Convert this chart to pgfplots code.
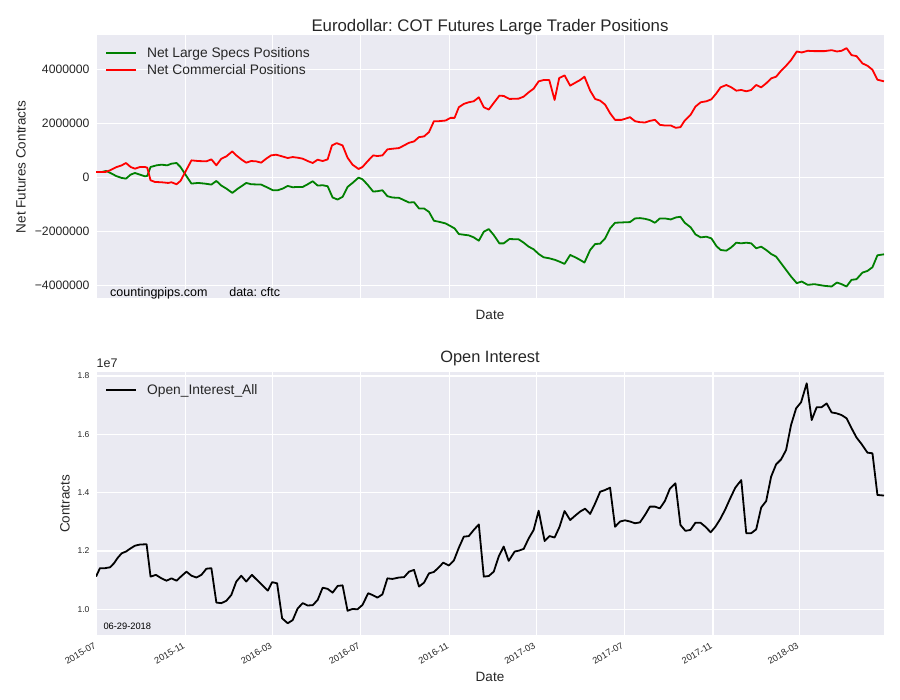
\documentclass[border=0pt]{standalone}
\usepackage{fontspec}
\setmainfont{Liberation Sans}
\usepackage{pgfplots}
\pgfplotsset{compat=1.18}
\frenchspacing

\definecolor{sbbg}{HTML}{EAEAF2}
\definecolor{sbtext}{HTML}{262626}
\definecolor{mplgreen}{RGB}{0,128,0}

% seaborn darkgrid look, x in days since 2015-07-01
\pgfplotsset{
  sbstyle/.style={
    scale only axis, width=788pt,
    xmin=-1, xmax=1091,
    scaled y ticks=false, scaled x ticks=false,
    axis background/.style={fill=sbbg},
    axis line style={draw=none},
    grid=major, major grid style={white, line width=1.1pt},
    major tick length=0pt,
    xtick={0,123,244,366,489,609,731,854,974},
    legend cell align=left,
    legend style={draw=none, fill=none, anchor=north west,
      at={(axis description cs:0,1)}, xshift=6pt, yshift=-8pt,
      font=\fontsize{13.8}{16}\selectfont, text=sbtext,
      row sep=1.5pt,
      /tikz/every odd column/.append style={column sep=5pt}},
    legend image code/.code={\draw[##1, line width=1.9pt] (0pt,0pt) -- (30pt,0pt);},
    every axis plot/.append style={line width=1.8pt, line join=round},
    tick label style={text=sbtext},
  }
}

\begin{document}
\begin{tikzpicture}
\path[use as bounding box] (0pt,0pt) rectangle (900pt,700pt);

% ---------- top: net positions ----------
\begin{axis}[sbstyle,
  at={(96pt,401.5pt)}, anchor=south west, height=263.5pt,
  ymin=-4480000, ymax=5260000,
  ytick={-4000000,-2000000,0,2000000,4000000},
  yticklabels={−4000000,−2000000,0,2000000,4000000},
  yticklabel style={font=\fontsize{12.2}{14}\selectfont, xshift=-3pt},
  xticklabels={},
]
\addplot[mplgreen] coordinates {
(-1,196000) (7,196000) (13,233000) (19,160000) (26.8,49000) (34.6,-25000) (40.6,-49000) (47,98000) (53,160000) (59.9,98000) (66.8,37000) (70,49000)
(74.6,380000) (82.9,442000) (89.8,466000) (97.7,442000) (103.6,503000) (110.6,528000) (116.1,380000) (122.1,135000) (131.3,-233000) (140.5,-209000)
(149.7,-233000) (158.9,-270000) (165.8,-135000) (172.7,-307000) (179.6,-417000) (187.9,-577000) (195.7,-417000) (202.6,-294000) (207.2,-209000)
(214.1,-258000) (227.9,-270000) (234.8,-356000) (244,-479000) (250.9,-479000) (257.8,-417000) (264.7,-319000) (271.6,-368000) (278.5,-356000)
(285.5,-356000) (292.4,-258000) (299.3,-147000) (306.2,-307000) (313.1,-294000) (320,-331000) (326.9,-748000) (333.8,-822000) (340.7,-724000)
(347.6,-356000) (354.5,-209000) (362.8,-12000) (368.3,-74000) (375.2,-270000) (383.1,-528000) (389,-515000) (395.9,-479000) (402.8,-699000)
(409.8,-748000) (419,-761000) (425.9,-847000) (432.8,-933000) (439.7,-920000) (446.6,-1153000) (453.5,-1153000) (460.4,-1276000) (467.3,-1607000)
(474.2,-1644000) (483.4,-1706000) (490.3,-1804000) (495.9,-1890000) (501.8,-2098000) (508.7,-2123000) (515.6,-2147000) (522.5,-2221000) (529.5,-2344000)
(536.4,-2012000) (543.3,-1914000) (550.2,-2135000) (558,-2442000) (564,-2442000) (571.9,-2282000) (584.8,-2295000) (591.7,-2417000) (598.6,-2564000)
(605.5,-2663000) (612.4,-2834000) (619.3,-2957000) (627.1,-2994000) (635.4,-3055000) (642.3,-3129000) (648.3,-3202000) (656.1,-2871000) (664,-2969000)
(669.9,-3055000) (675.9,-3153000) (683.8,-2687000) (690.7,-2466000) (697.6,-2454000) (704.5,-2258000) (711.4,-1890000) (718.3,-1681000) (727.5,-1669000)
(739,-1656000) (745.9,-1521000) (752.8,-1509000) (759.7,-1534000) (766.6,-1583000) (773.5,-1681000) (780.4,-1521000) (787.3,-1521000) (795.6,-1558000)
(802.5,-1485000) (808.9,-1460000) (814.9,-1681000) (823.2,-1853000) (829.7,-2110000) (837,-2221000) (844.9,-2196000) (851.8,-2258000) (858.7,-2540000)
(864.6,-2687000) (872.5,-2712000) (879.4,-2589000) (886.3,-2417000) (893.2,-2442000) (900.1,-2417000) (907,-2442000) (913.9,-2625000) (920.8,-2564000)
(927.7,-2687000) (934.6,-2834000) (941.5,-2932000) (948.4,-3178000) (955.3,-3423000) (962.2,-3669000) (970.1,-3914000) (977,-3853000) (985.3,-3976000)
(994.5,-3951000) (1008.3,-4012000) (1018.4,-4037000) (1025.8,-3890000) (1032.2,-3951000) (1039.1,-4037000) (1046,-3791000) (1052.9,-3767000)
(1061.2,-3522000) (1068.1,-3460000) (1075,-3325000) (1081.9,-2883000) (1091,-2847000)
};
\addlegendentry{\hspace{3pt}Net Large Specs Positions}
\addplot[red] coordinates {
(-1,196000) (12,196000) (18.5,258000) (27.7,380000) (34.6,442000) (40.6,528000) (47,380000) (53,319000) (59.9,380000) (66.8,380000) (70,356000)
(74.6,-110000) (80.6,-172000) (89.8,-184000) (99,-209000) (103.6,-184000) (110.6,-258000) (116.1,-135000) (124.4,282000) (131.3,626000) (140.5,601000)
(152,589000) (158.9,663000) (165.8,442000) (172.7,687000) (179.6,773000) (187.9,957000) (193.4,810000) (200.3,663000) (207.2,540000) (214.1,601000)
(221,589000) (227.9,540000) (234.8,687000) (241.7,810000) (248.6,834000) (255.5,785000) (264.7,712000) (271.6,748000) (278.5,724000) (285.5,687000)
(292.4,601000) (299.3,528000) (306.2,650000) (313.1,601000) (320,663000) (326,1178000) (332.4,1264000) (340.7,1178000) (347.6,724000) (354.5,466000)
(362.8,307000) (368.3,380000) (375.2,589000) (383.1,810000) (389,785000) (395.9,810000) (402.8,1031000) (409.8,1055000) (419,1080000) (425.9,1178000)
(432.8,1276000) (439.7,1325000) (446.6,1485000) (453.5,1509000) (460.4,1669000) (467.3,2074000) (474.2,2074000) (483.4,2098000) (490.3,2196000)
(495.9,2196000) (501.8,2589000) (508.7,2712000) (515.6,2773000) (522.5,2810000) (529.5,2957000) (536.4,2589000) (543.3,2503000) (550.2,2748000)
(558,3018000) (564,3006000) (571.9,2896000) (584.8,2908000) (591.7,2982000) (598.6,3141000) (605.5,3276000) (612.4,3546000) (619.3,3595000)
(627.1,3595000) (634.5,2859000) (640.9,3669000) (648.3,3767000) (656.1,3387000) (664,3509000) (669.9,3595000) (675.9,3718000) (683.8,3202000)
(690.7,2895000) (697.6,2834000) (704.5,2687000) (711.4,2368000) (718.3,2123000) (727.5,2123000) (739,2221000) (745.9,2074000) (752.8,2037000)
(759.7,2025000) (766.6,2086000) (773.5,2123000) (780.4,1939000) (787.3,1914000) (795.6,1914000) (802.5,1828000) (808.9,1853000) (814.9,2098000)
(823.2,2319000) (829.7,2614000) (837,2773000) (844.9,2810000) (851.8,2883000) (858.7,3104000) (864.6,3325000) (872.5,3411000) (879.4,3325000)
(886.3,3202000) (893.2,3227000) (900.1,3178000) (907,3227000) (913.9,3411000) (920.8,3325000) (927.7,3472000) (934.6,3656000) (941.5,3718000)
(948.4,3939000) (955.3,4123000) (962.2,4331000) (970.1,4650000) (977,4614000) (985.3,4675000) (994.5,4663000) (1008.3,4663000) (1018.4,4699000)
(1025.8,4650000) (1032.2,4675000) (1039.1,4773000) (1046,4515000) (1052.9,4479000) (1061.2,4209000) (1068.1,4123000) (1075,3975000) (1081.9,3607000)
(1091,3546000)
};
\addlegendentry{\hspace{3pt}Net Commercial Positions}
\end{axis}

% ---------- bottom: open interest ----------
\begin{axis}[sbstyle,
  at={(96pt,65pt)}, anchor=south west, height=262.5pt,
  ymin=9118000, ymax=18120000,
  ytick={10000000,12000000,14000000,16000000,18000000},
  yticklabels={1.0,1.2,1.4,1.6,1.8},
  yticklabel style={font=\fontsize{8.5}{10}\selectfont, xshift=-3pt},
  xticklabels={2015-07,2015-11,2016-03,2016-07,2016-11,2017-03,2017-07,2017-11,2018-03},
  xticklabel style={font=\fontsize{9.2}{10}\selectfont, rotate=30, anchor=north east, xshift=-3pt, yshift=-1pt},
]
\addplot[black] coordinates {
(-1,11120000) (4.5,11410000) (11.6,11410000) (18.5,11440000) (24,11580000) (28.6,11750000) (34.6,11920000) (40.6,11980000) (47,12090000)
(53,12180000) (59.9,12220000) (69.1,12230000) (74.6,11120000) (82,11180000) (89.8,11060000) (96.7,10980000) (103.6,11060000) (110.6,10980000)
(117.5,11140000) (124.4,11290000) (131.3,11150000) (138.2,11090000) (145.1,11180000) (152,11390000) (158.9,11410000) (165.8,10230000) (172.7,10210000)
(179.6,10290000) (186.5,10490000) (193.4,10950000) (200.3,11150000) (207.2,10950000) (215,11180000) (221.9,11010000) (229.3,10830000) (237.1,10640000)
(243.1,10930000) (250,10890000) (256.9,9690000) (264.7,9520000) (271.6,9630000) (278.5,10030000) (285.5,10210000) (292.4,10130000) (299.3,10140000)
(306.2,10320000) (313.1,10740000) (320,10700000) (326.9,10570000) (333.8,10800000) (340.7,10820000) (347.6,9950000) (354.5,10010000) (361.4,10000000)
(368.3,10150000) (376.2,10550000) (382.1,10490000) (389,10400000) (395.9,10510000) (402.8,11060000) (409.8,11040000) (419,11090000) (425.9,11100000)
(432.8,11290000) (439.7,11350000) (446.6,10780000) (453.5,10910000) (460.4,11230000) (467.3,11280000) (474.2,11440000) (480.2,11600000) (488,11500000)
(494.9,11670000) (501.8,12110000) (508.7,12490000) (515.6,12510000) (522.5,12720000) (529.5,12910000) (536.4,11120000) (543.3,11140000) (550.2,11290000)
(557.1,11810000) (564,12150000) (570.9,11660000) (579.2,11980000) (584.8,12010000) (591.7,12070000) (598.6,12430000) (605.5,12720000) (612.4,13380000)
(620.7,12340000) (627.6,12510000) (634.5,12460000) (641.4,12830000) (648.3,13370000) (656.1,13060000) (663,13210000) (669.9,13350000) (676.8,13450000)
(683.8,13270000) (690.7,13630000) (697.6,14030000) (704.5,14090000) (711.4,14170000) (718.3,12830000) (725.2,13010000) (732.1,13050000) (739,13010000)
(745.9,12950000) (752.8,12980000) (759.7,13230000) (766.6,13520000) (773.5,13520000) (780.4,13460000) (787.3,13710000) (794.2,14130000) (802,14320000)
(808.9,12890000) (815.8,12690000) (822.7,12720000) (829.7,12970000) (836.6,12970000) (843.5,12830000) (850.8,12640000) (857.3,12830000) (864.2,13100000)
(871.1,13430000) (878,13810000) (884.9,14170000) (893.2,14430000) (900.1,12610000) (907,12610000) (913.9,12740000) (920.8,13490000) (927.7,13710000)
(934.6,14550000) (941.5,14970000) (948.4,15140000) (955.3,15460000) (962.2,16320000) (969.2,16890000) (976.1,17100000) (983.9,17750000) (990.8,16490000)
(997.7,16930000) (1004.6,16930000) (1011.5,17060000) (1018.4,16750000) (1025.3,16720000) (1032.2,16660000) (1039.1,16550000) (1046,16210000)
(1052.9,15890000) (1059.8,15670000) (1068.1,15370000) (1075,15350000) (1081.9,13920000) (1091,13900000)
};
\addlegendentry{\hspace{3pt}Open\_Interest\_All}
\end{axis}

% ---------- titles, labels, notes ----------
\node[text=sbtext, font=\fontsize{16.8}{19}\selectfont, anchor=base, inner sep=0pt] at (490pt,668.5pt) {Eurodollar: COT Futures Large Trader Positions};
\node[text=sbtext, font=\fontsize{13.5}{16}\selectfont, rotate=90] at (21pt,533pt) {Net Futures Contracts};
\node[text=sbtext, font=\fontsize{13.5}{16}\selectfont] at (490pt,385pt) {Date};
\node[text=black, font=\fontsize{12.5}{14}\selectfont, anchor=base west, inner sep=0pt] at (110pt,403.5pt) {countingpips.com\hspace{1.75em}data: cftc};
\node[text=sbtext, font=\fontsize{16.4}{19}\selectfont, anchor=base, inner sep=0pt] at (490pt,337.7pt) {Open Interest};
\node[text=sbtext, font=\fontsize{12.5}{14}\selectfont, anchor=base west, inner sep=0pt] at (96.5pt,332.3pt) {1e7};
\node[text=sbtext, font=\fontsize{13.5}{16}\selectfont, rotate=90] at (65pt,196pt) {Contracts};
\node[text=black, font=\fontsize{9.3}{11}\selectfont, anchor=base west, inner sep=0pt] at (103.3pt,70.7pt) {06-29-2018};
\node[text=sbtext, font=\fontsize{13.5}{16}\selectfont] at (490pt,23pt) {Date};
\end{tikzpicture}
\end{document}
